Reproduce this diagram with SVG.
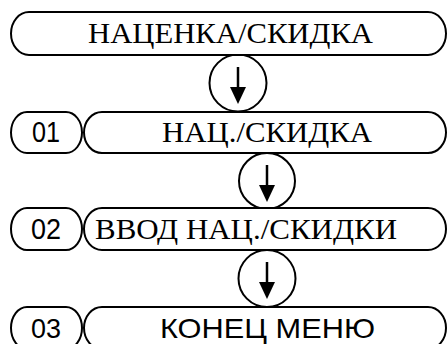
<svg xmlns="http://www.w3.org/2000/svg" width="448" height="344" viewBox="0 0 448 344">
<style>
.box{fill:#fff;stroke:#000;stroke-width:2}
.circ{fill:#fff;stroke:#000;stroke-width:2}
.arr{stroke:#000;stroke-width:2.5;fill:none}
.head{fill:#000}
.serif{font-family:'Liberation Serif','Noto Serif','DejaVu Serif','FreeSerif','Times New Roman',serif;font-size:30px;fill:#000}
.sans{font-family:'Liberation Sans',Arial,sans-serif;font-size:29px;fill:#000}
</style>
<rect width="448" height="344" fill="#fff"/>
<g id="connectors">
<g id="c1"><circle class="circ" cx="238" cy="83" r="28.5"/><line class="arr" x1="238" y1="67" x2="238" y2="90"/><polygon class="head" points="230,87 246,87 238,104"/></g>
<g id="c2"><circle class="circ" cx="267" cy="181" r="28"/><line class="arr" x1="267" y1="165" x2="267" y2="188"/><polygon class="head" points="259,185 275,185 267,202"/></g>
<g id="c3"><circle class="circ" cx="267" cy="278.5" r="28.5"/><line class="arr" x1="267" y1="262" x2="267" y2="285"/><polygon class="head" points="259,282 275,282 267,299"/></g>
</g>
<g id="n0"><rect class="box" x="11" y="12" width="435" height="43" rx="18" ry="21.5"/><text class="serif" x="230.5" y="43" text-anchor="middle" textLength="285" lengthAdjust="spacingAndGlyphs">НАЦЕНКА/СКИДКА</text></g>
<g id="n1num"><rect class="box" x="11" y="112" width="71" height="41" rx="16" ry="20.5"/><text class="sans" x="46" y="142" text-anchor="middle" textLength="28" lengthAdjust="spacingAndGlyphs">01</text></g>
<g id="n1"><rect class="box" x="84" y="112" width="362" height="41" rx="18" ry="20.5"/><text class="serif" x="267" y="142" text-anchor="middle" textLength="210" lengthAdjust="spacingAndGlyphs">НАЦ./СКИДКА</text></g>
<g id="n2num"><rect class="box" x="11" y="208" width="71" height="42" rx="16" ry="21"/><text class="sans" x="46" y="239" text-anchor="middle" textLength="30" lengthAdjust="spacingAndGlyphs">02</text></g>
<g id="n2"><rect class="box" x="84" y="208" width="362" height="42" rx="18" ry="21"/><text class="serif" x="246" y="239" text-anchor="middle" textLength="302" lengthAdjust="spacingAndGlyphs">ВВОД НАЦ./СКИДКИ</text></g>
<g id="n3num"><rect class="box" x="11" y="307" width="71" height="42" rx="16" ry="21"/><text class="sans" x="46" y="338" text-anchor="middle" textLength="30" lengthAdjust="spacingAndGlyphs" style="font-size:28px">03</text></g>
<g id="n3"><rect class="box" x="84" y="307" width="362" height="42" rx="18" ry="21"/><text class="sans" x="267.5" y="338" text-anchor="middle" textLength="215" lengthAdjust="spacingAndGlyphs" style="font-size:28px">КОНЕЦ МЕНЮ</text></g>
</svg>
